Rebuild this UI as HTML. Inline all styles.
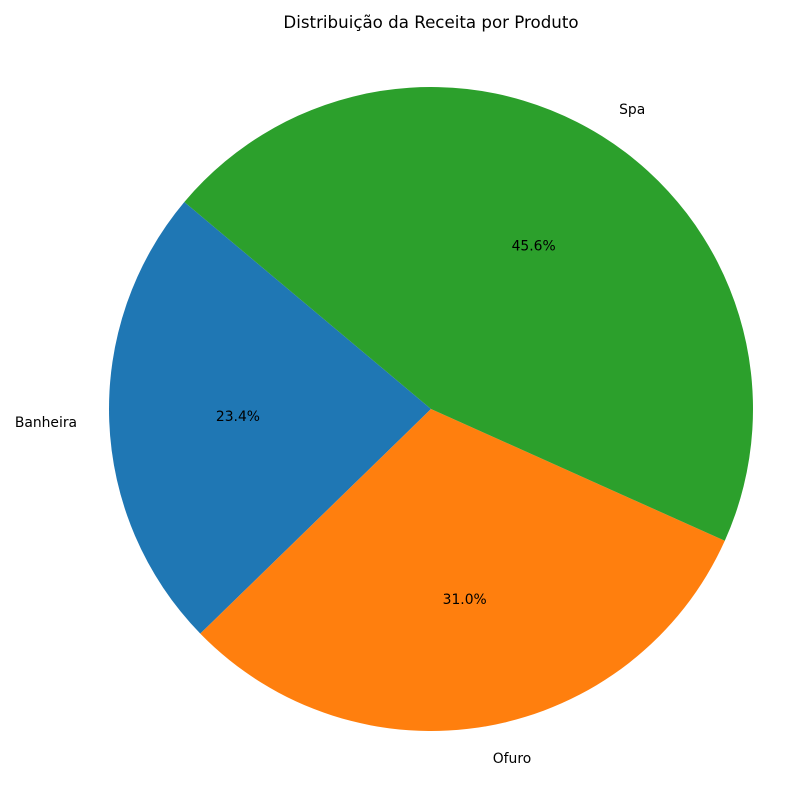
<!DOCTYPE html>
<html><head><meta charset="utf-8"><style>
body{margin:0;background:#fff;}
svg{display:block;font-family:"DejaVu Sans","Liberation Sans",sans-serif;}
</style></head><body>
<svg id="chart" width="800" height="800">
<rect width="800" height="800" fill="#fff"/>
<text x="431" y="28" text-anchor="middle" font-size="16.67" fill="#000">Distribuição da Receita por Produto</text>
<g id="slices"></g>
</svg>
<script>
const categories = ["Banheira", "Ofuro", "Spa"];
const values = [23.4, 31.0, 45.6];
const colors = ["#1f77b4", "#ff7f0e", "#2ca02c"];
const cx = 431, cy = 409, r = 322, startAngle = 140;
const ns = "http://www.w3.org/2000/svg";
const g = document.getElementById("slices");
const total = values.reduce((a, b) => a + b, 0);
function pt(deg, rad) { const a = deg * Math.PI / 180; return [cx + rad * Math.cos(a), cy - rad * Math.sin(a)]; }
let ang = startAngle;
values.forEach((v, i) => {
  const sweep = v / total * 360;
  const a0 = ang, a1 = ang + sweep;
  const p0 = pt(a0, r), p1 = pt(a1, r);
  const path = document.createElementNS(ns, "path");
  path.setAttribute("d", `M${cx},${cy} L${p0[0]},${p0[1]} A${r},${r} 0 ${sweep > 180 ? 1 : 0} 0 ${p1[0]},${p1[1]} Z`);
  path.setAttribute("fill", colors[i]);
  
  
  g.appendChild(path);
  const mid = (a0 + a1) / 2;
  const lp = pt(mid, r * 1.1);
  const c = Math.cos(mid * Math.PI / 180);
  const lbl = document.createElementNS(ns, "text");
  lbl.setAttribute("x", lp[0]); lbl.setAttribute("y", lp[1] + 5);
  lbl.setAttribute("text-anchor", c >= 0 ? "start" : "end");
  lbl.setAttribute("font-size", "13.89");
  lbl.textContent = categories[i];
  
  
  g.appendChild(lbl);
  const pp = pt(mid, r * 0.6);
  const pct = document.createElementNS(ns, "text");
  pct.setAttribute("x", pp[0]); pct.setAttribute("y", pp[1] + 5);
  pct.setAttribute("text-anchor", "middle");
  pct.setAttribute("font-size", "13.89");
  pct.textContent = (v / total * 100).toFixed(1) + "%";
  
  
  g.appendChild(pct);
  ang = a1;
});
</script>
</body></html>
